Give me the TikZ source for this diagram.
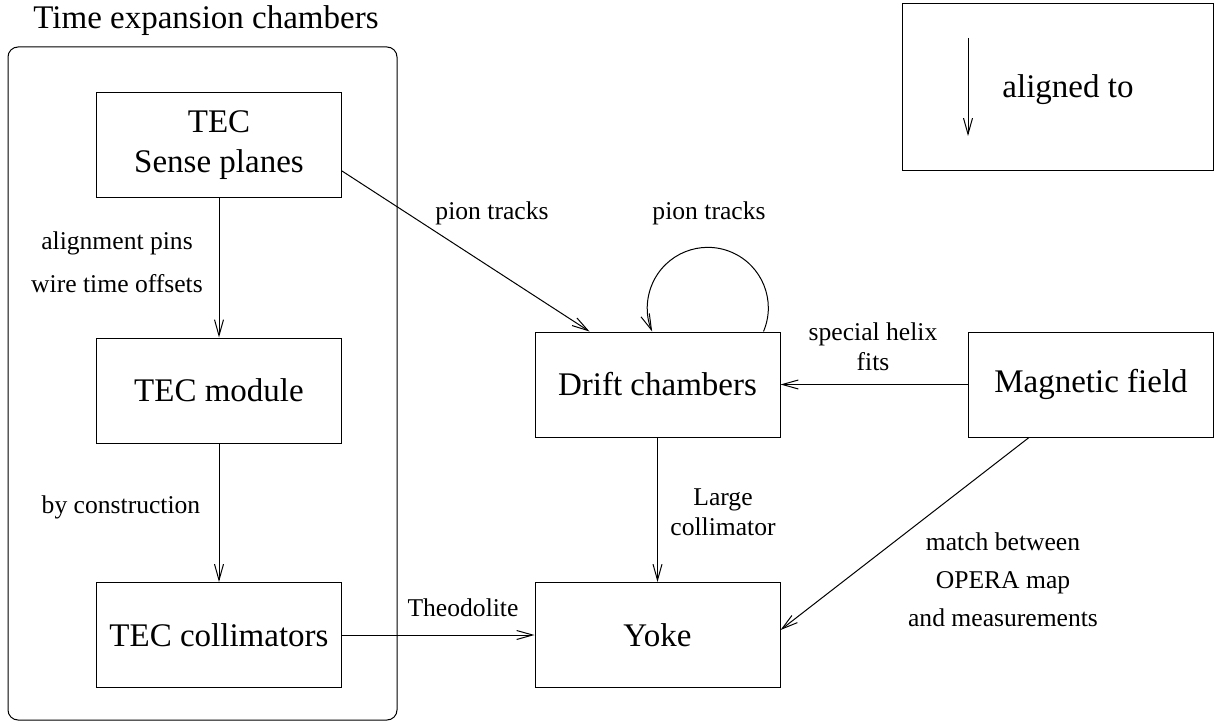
\documentclass[tikz,border=0pt]{standalone}
\usepackage{fontspec}
\setmainfont{Liberation Serif}
\usetikzlibrary{arrows.meta}

\tikzset{
	blok/.style = { draw, line width = 0.5pt, minimum width = 122.5pt, minimum height = 52.5pt, inner sep = 0pt, align = center, font = \fontsize{16.5}{20}\selectfont },
	metka/.style = { inner sep = 0pt, align = center, font = \fontsize{12.8}{15}\selectfont },
	strelka/.style = { line width = 0.5pt, -{Straight Barb[length=8pt,width=4.5pt]} }
}

\begin{document}
\begin{tikzpicture}[x=0.5pt, y=-0.5pt]
		\useasboundingbox ( 0, 0 ) rectangle ( 1215, 727 );

		% камеры TEC
		\node [draw, line width = 0.5pt, rounded corners = 5pt, minimum width = 194.5pt, minimum height = 336.5pt] (tec) at ( 202.5, 383.5 ) {};
		\node [metka, anchor = west, font = \fontsize{16.5}{20}\selectfont] (tectitle) at ( 33, 21 ) {Time expansion chambers};

		\node [blok] (sense) at ( 219, 145 ) {TEC\\Sense planes};
		\node [blok] (module) at ( 219, 390.5 ) {TEC module};
		\node [blok] (kollim) at ( 219, 635 ) {TEC collimators};

		\draw [strelka] (sense) -- (module);
		\node [metka] (pins) at ( 117, 262.5 ) {alignment pins\\[6.5pt]wire time offsets};
		\draw [strelka] (module) -- (kollim);
		\node [metka] (constr) at ( 121, 507 ) {by construction};

		% дрейфовые камеры
		\node [blok] (drift) at ( 657.5, 384.5 ) {Drift chambers};
		\draw [strelka] ([yshift=-13pt]sense.east) -- ([xshift=-34pt]drift.north);
		\node [metka] (pion1) at ( 492, 213 ) {pion tracks};
		\draw [strelka] ([xshift=53pt]drift.north) arc [ start angle = -23, end angle = 203, radius = 30.25pt ];
		\node [metka] (pion2) at ( 709, 213 ) {pion tracks};

		% магнитное поле
		\node [blok] (pole) at ( 1091, 384.5 ) {Magnetic field};
		\draw [strelka] (pole) -- (drift);
		\node [metka] (helix) at ( 873, 347 ) {special helix\\fits};

		% ярмо
		\node [blok] (yoke) at ( 657.5, 635 ) {Yoke};
		\draw [strelka] (drift) -- (yoke);
		\node [metka] (large) at ( 723, 512 ) {Large\\collimator};
		\draw [strelka] ([xshift=-31pt]pole.south) -- ([yshift=2.5pt]yoke.east);
		\node [metka] (opera) at ( 1003, 580 ) {match between\\[4pt]OPERA map\\[4pt]and measurements};
		\draw [strelka] (kollim) -- (yoke);
		\node [metka] (theo) at ( 463, 608 ) {Theodolite};

		% легенда
		\node [draw, line width = 0.5pt, minimum width = 155.5pt, minimum height = 83.5pt] (legenda) at ( 1057.5, 87.5 ) {};
		\coordinate (lverh) at ( 968, 38 );
		\coordinate (lniz) at ( 968, 136 );
		\draw [strelka] (lverh) -- (lniz);
		\node [metka, font = \fontsize{16.5}{20}\selectfont] (aligned) at ( 1068, 90 ) {aligned to};
	\end{tikzpicture}
\end{document}
